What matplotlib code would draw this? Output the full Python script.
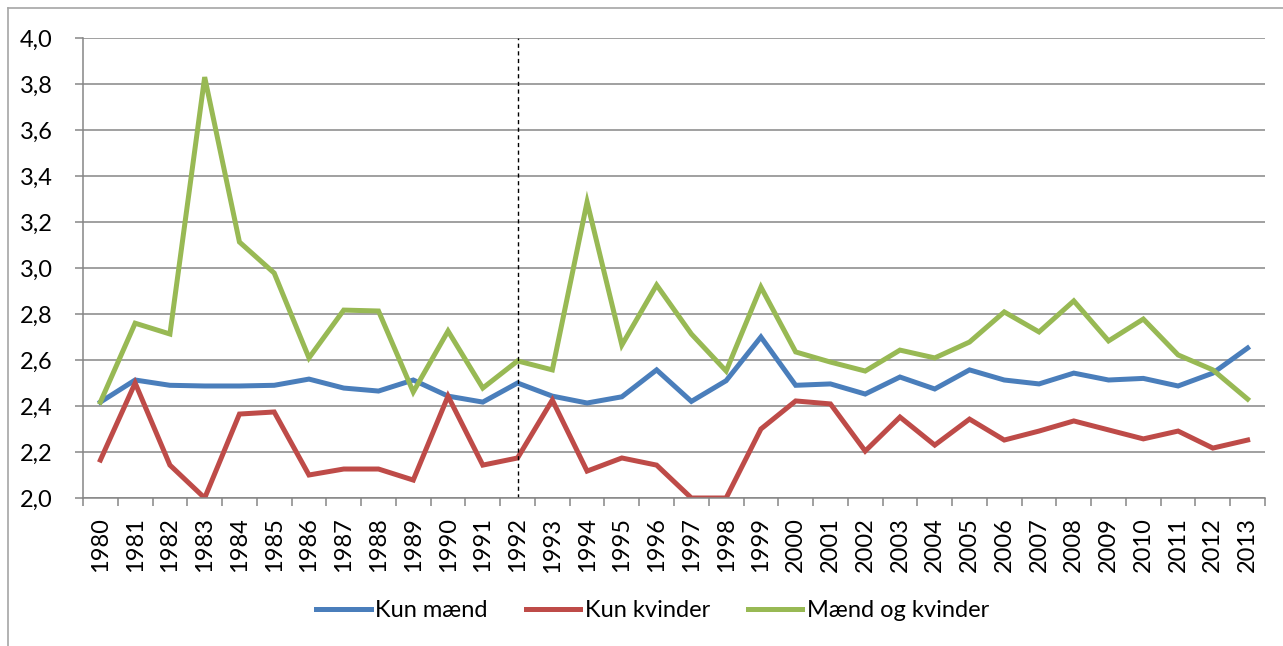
import numpy as np
import matplotlib.pyplot as plt
from matplotlib.lines import Line2D

plt.rcParams['font.family'] = ['Lato', 'DejaVu Sans']

years = [str(y) for y in range(1980, 2014)]

kun_maend = [2.417, 2.513, 2.490, 2.487, 2.487, 2.490, 2.517, 2.478, 2.465, 2.513,
             2.443, 2.417, 2.500, 2.443, 2.413, 2.440, 2.557, 2.420, 2.510, 2.700,
             2.490, 2.496, 2.452, 2.526, 2.474, 2.557, 2.513, 2.496, 2.543, 2.513,
             2.520, 2.487, 2.543, 2.652]

kun_kvinder = [2.165, 2.500, 2.143, 2.000, 2.365, 2.374, 2.100, 2.126, 2.126, 2.078,
               2.443, 2.143, 2.174, 2.426, 2.117, 2.174, 2.143, 2.000, 2.000, 2.300,
               2.422, 2.409, 2.204, 2.352, 2.230, 2.343, 2.252, 2.291, 2.335, 2.296,
               2.257, 2.291, 2.217, 2.252]

maend_og_kvinder = [2.417, 2.760, 2.713, 3.830, 3.113, 2.978, 2.609, 2.817, 2.813, 2.461,
                    2.726, 2.478, 2.596, 2.557, 3.287, 2.665, 2.926, 2.713, 2.552, 2.917,
                    2.635, 2.591, 2.552, 2.643, 2.609, 2.678, 2.809, 2.722, 2.857, 2.683,
                    2.778, 2.622, 2.557, 2.430]

series_names = ["Kun mænd", "Kun kvinder", "Mænd og kvinder"]
colors = ["#4A7EBB", "#BE4B48", "#98B954"]
split_year = "1992"

W, H = 1283, 646
fig = plt.figure(figsize=(W / 100, H / 100), dpi=100)

# outer chart frame (only left and top edges visible)
fig.add_artist(Line2D([8 / W, 8 / W], [0, 1 - 8 / H], color="#a6a6a6", lw=1.2))
fig.add_artist(Line2D([8 / W, 1], [1 - 8 / H, 1 - 8 / H], color="#a6a6a6", lw=1.2))

ax = fig.add_axes([83 / W, 1 - 498 / H, (1265 - 83) / W, (498 - 38) / H])

x = np.arange(len(years))
for vals, name, c in zip([kun_maend, kun_kvinder, maend_og_kvinder], series_names, colors):
    ax.plot(x, vals, color=c, lw=3.6, label=name, solid_joinstyle="miter")

ax.set_xlim(-0.5, len(years) - 0.5)
ax.set_ylim(2.0, 4.0)

yt = np.arange(2.0, 4.01, 0.2)
ax.set_yticks(yt)
ax.set_yticklabels([f"{v:.1f}".replace(".", ",") for v in yt], fontsize=17)
ax.yaxis.grid(True, color="#868686", lw=1.1)
ax.set_axisbelow(True)

ax.set_xticks(x)
ax.set_xticklabels(years, rotation=90, fontsize=17)
ax.set_xticks(np.arange(-0.5, len(years), 1.0), minor=True)
ax.tick_params(axis="x", which="major", length=0, pad=14)
ax.tick_params(axis="x", which="minor", length=6, color="#868686", width=1.1)
ax.tick_params(axis="y", length=6, color="#868686", width=1.1, pad=16)

for s in ["top", "right"]:
    ax.spines[s].set_visible(False)
for s in ["left", "bottom"]:
    ax.spines[s].set_color("#868686")
    ax.spines[s].set_linewidth(1.1)

ax.axvline(years.index(split_year), color="black", lw=1, ls=(0, (3, 2.5)))

ax.legend(loc="center", bbox_to_anchor=(0.482, -0.245), ncol=3, frameon=False,
          fontsize=17, handlelength=2.3, handletextpad=0.2, columnspacing=1.6)

fig.savefig("out.png", dpi=100)
